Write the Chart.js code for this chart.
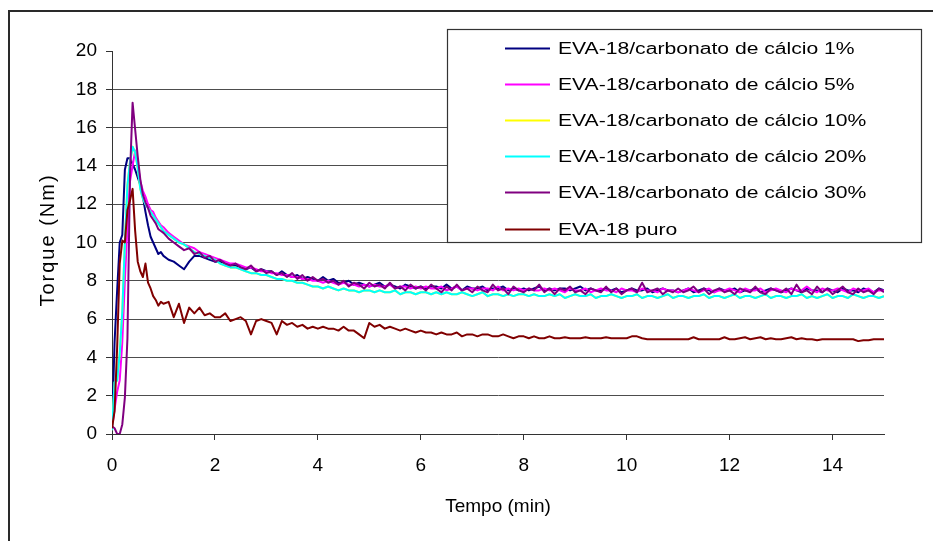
<!DOCTYPE html>
<html lang="pt">
<head>
<meta charset="utf-8">
<title>Torque x Tempo - EVA-18 / carbonato de cálcio</title>
<script src="https://cdn.jsdelivr.net/npm/chart.js@4.4.1/dist/chart.umd.min.js"></script>
<style>
    html, body { margin: 0; padding: 0; background: #fff; }
    #torqueContainer { width: 933px; height: 541px; }
</style>
</head>
<body>
<div id="torqueContainer"><canvas id="torqueChart" width="933" height="541"></canvas></div>
<script>
// Tempo (min) - fine steps during loading, then every 0.1 min
const tempo = [
    0, 0.05, 0.1, 0.15, 0.2, 0.25, 0.3, 0.35, 0.4, 0.45, 0.5, 0.55, 0.6, 0.65, 0.7, 0.75, 0.8, 0.85, 0.9, 0.95, 1.0,
    1.1, 1.2, 1.3, 1.4, 1.5, 1.6, 1.7, 1.8, 1.9, 2.0,
    2.1, 2.2, 2.3, 2.4, 2.5, 2.6, 2.7, 2.8, 2.9, 3.0,
    3.1, 3.2, 3.3, 3.4, 3.5, 3.6, 3.7, 3.8, 3.9, 4.0,
    4.1, 4.2, 4.3, 4.4, 4.5, 4.6, 4.7, 4.8, 4.9, 5.0,
    5.1, 5.2, 5.3, 5.4, 5.5, 5.6, 5.7, 5.8, 5.9, 6.0,
    6.1, 6.2, 6.3, 6.4, 6.5, 6.6, 6.7, 6.8, 6.9, 7.0,
    7.1, 7.2, 7.3, 7.4, 7.5, 7.6, 7.7, 7.8, 7.9, 8.0,
    8.1, 8.2, 8.3, 8.4, 8.5, 8.6, 8.7, 8.8, 8.9, 9.0,
    9.1, 9.2, 9.3, 9.4, 9.5, 9.6, 9.7, 9.8, 9.9, 10.0,
    10.1, 10.2, 10.3, 10.4, 10.5, 10.6, 10.7, 10.8, 10.9, 11.0,
    11.1, 11.2, 11.3, 11.4, 11.5, 11.6, 11.7, 11.8, 11.9, 12.0,
    12.1, 12.2, 12.3, 12.4, 12.5, 12.6, 12.7, 12.8, 12.9, 13.0,
    13.1, 13.2, 13.3, 13.4, 13.5, 13.6, 13.7, 13.8, 13.9, 14.0,
    14.1, 14.2, 14.3, 14.4, 14.5, 14.6, 14.7, 14.8, 14.9, 15.0
];

// Torque (Nm) for each formulation
const torque1 = [
    0.2, 4.8, 7.5, 10.0, 10.4, 13.8, 14.4, 14.4, 14.1, 13.8, 13.4, 13.0, 12.4, 11.6, 10.9, 10.3, 10.0, 9.7, 9.4, 9.5, 9.3,
    9.1, 9.0, 8.8, 8.6, 9.0, 9.3, 9.3, 9.2, 9.1, 9.0,
    9.0, 8.9, 8.8, 8.8, 8.7, 8.6, 8.7, 8.5, 8.6, 8.5,
    8.5, 8.3, 8.5, 8.3, 8.2, 8.3, 8.1, 8.2, 8.1, 8.0,
    8.2, 8.0, 8.1, 7.9, 7.9, 8.0, 7.8, 7.9, 7.8, 7.7,
    7.8, 7.9, 7.7, 7.8, 7.7, 7.6, 7.8, 7.7, 7.6, 7.7,
    7.6, 7.7, 7.7, 7.6, 7.8, 7.6, 7.7, 7.5, 7.7, 7.6,
    7.6, 7.7, 7.5, 7.6, 7.6, 7.7, 7.5, 7.6, 7.5, 7.6,
    7.5, 7.6, 7.7, 7.5, 7.6, 7.5, 7.6, 7.6, 7.5, 7.6,
    7.7, 7.5, 7.6, 7.5, 7.5, 7.6, 7.5, 7.6, 7.4, 7.5,
    7.6, 7.5, 7.5, 7.6, 7.4, 7.5, 7.6, 7.5, 7.5, 7.4,
    7.5, 7.6, 7.4, 7.5, 7.6, 7.5, 7.4, 7.6, 7.5, 7.5,
    7.6, 7.4, 7.5, 7.5, 7.6, 7.4, 7.5, 7.6, 7.5, 7.4,
    7.5, 7.6, 7.5, 7.4, 7.6, 7.5, 7.5, 7.4, 7.6, 7.5,
    7.4, 7.6, 7.5, 7.5, 7.4, 7.6, 7.5, 7.4, 7.6, 7.5
];
const torque5 = [
    0.3, 1.3, 2.2, 2.8, 4.8, 8.0, 10.8, 13.2, 14.0, 14.8, 14.1, 13.2, 12.7, 12.4, 12.0, 11.7, 11.6, 11.3, 11.1, 10.9, 10.8,
    10.5, 10.3, 10.1, 9.9, 9.8, 9.7, 9.5, 9.4, 9.3, 9.2,
    9.1, 9.0, 8.9, 8.9, 8.8, 8.7, 8.7, 8.6, 8.5, 8.5,
    8.4, 8.4, 8.3, 8.3, 8.2, 8.2, 8.1, 8.1, 8.0, 8.0,
    7.9, 8.0, 7.9, 7.8, 7.9, 7.8, 7.8, 7.7, 7.8, 7.7,
    7.8, 7.7, 7.7, 7.8, 7.6, 7.7, 7.7, 7.6, 7.7, 7.6,
    7.7, 7.6, 7.6, 7.7, 7.5, 7.6, 7.7, 7.5, 7.6, 7.6,
    7.5, 7.6, 7.6, 7.5, 7.7, 7.5, 7.6, 7.5, 7.6, 7.5,
    7.6, 7.5, 7.5, 7.6, 7.5, 7.6, 7.5, 7.4, 7.6, 7.5,
    7.5, 7.6, 7.4, 7.5, 7.6, 7.5, 7.5, 7.4, 7.6, 7.5,
    7.5, 7.4, 7.6, 7.5, 7.5, 7.4, 7.6, 7.5, 7.5, 7.4,
    7.5, 7.6, 7.5, 7.4, 7.5, 7.6, 7.4, 7.5, 7.5, 7.6,
    7.5, 7.4, 7.6, 7.5, 7.5, 7.6, 7.4, 7.5, 7.6, 7.5,
    7.4, 7.6, 7.5, 7.5, 7.7, 7.5, 7.4, 7.6, 7.5, 7.5,
    7.6, 7.5, 7.4, 7.6, 7.5, 7.5, 7.6, 7.4, 7.5, 7.5
];
const torque10 = [
    0.2, 2.7, 2.8, 4.2, 6.4, 10.0, 13.0, 14.2, 15.0, 14.7, 13.9, 12.8, 12.3, 12.0, 11.8, 11.6, 11.4, 11.2, 11.0, 10.8, 10.6,
    10.4, 10.2, 10.0, 9.9, 9.7, 9.5, 9.4, 9.3, 9.2, 9.1,
    8.9, 8.8, 8.7, 8.7, 8.6, 8.5, 8.4, 8.4, 8.3, 8.3,
    8.2, 8.1, 8.1, 8.0, 8.0, 7.9, 7.9, 7.8, 7.7, 7.7,
    7.6, 7.7, 7.6, 7.5, 7.6, 7.5, 7.5, 7.4, 7.5, 7.5,
    7.4, 7.5, 7.4, 7.4, 7.5, 7.3, 7.4, 7.4, 7.3, 7.4,
    7.4, 7.3, 7.4, 7.3, 7.4, 7.3, 7.3, 7.4, 7.3, 7.2,
    7.3, 7.4, 7.2, 7.3, 7.3, 7.2, 7.3, 7.2, 7.3, 7.3,
    7.2, 7.3, 7.2, 7.2, 7.3, 7.2, 7.3, 7.1, 7.2, 7.3,
    7.2, 7.2, 7.3, 7.1, 7.2, 7.2, 7.3, 7.2, 7.1, 7.2,
    7.2, 7.3, 7.1, 7.2, 7.2, 7.1, 7.2, 7.3, 7.1, 7.2,
    7.2, 7.1, 7.2, 7.2, 7.3, 7.1, 7.2, 7.2, 7.1, 7.2,
    7.3, 7.1, 7.2, 7.2, 7.1, 7.2, 7.3, 7.1, 7.2, 7.2,
    7.1, 7.2, 7.2, 7.3, 7.1, 7.2, 7.1, 7.2, 7.3, 7.1,
    7.2, 7.2, 7.1, 7.3, 7.2, 7.1, 7.2, 7.2, 7.1, 7.2
];
const torque20 = [
    0.2, 2.7, 2.8, 4.2, 6.4, 10.0, 13.0, 14.2, 15.0, 14.7, 13.9, 12.8, 12.3, 12.0, 11.8, 11.6, 11.4, 11.2, 11.0, 10.8, 10.6,
    10.4, 10.2, 10.0, 9.9, 9.7, 9.5, 9.4, 9.3, 9.2, 9.1,
    8.9, 8.8, 8.7, 8.7, 8.6, 8.5, 8.4, 8.4, 8.3, 8.3,
    8.2, 8.1, 8.1, 8.0, 8.0, 7.9, 7.9, 7.8, 7.7, 7.7,
    7.6, 7.7, 7.6, 7.5, 7.6, 7.5, 7.5, 7.4, 7.5, 7.5,
    7.4, 7.5, 7.4, 7.4, 7.5, 7.3, 7.4, 7.4, 7.3, 7.4,
    7.4, 7.3, 7.4, 7.3, 7.4, 7.3, 7.3, 7.4, 7.3, 7.2,
    7.3, 7.4, 7.2, 7.3, 7.3, 7.2, 7.3, 7.2, 7.3, 7.3,
    7.2, 7.3, 7.2, 7.2, 7.3, 7.2, 7.3, 7.1, 7.2, 7.3,
    7.2, 7.2, 7.3, 7.1, 7.2, 7.2, 7.3, 7.2, 7.1, 7.2,
    7.2, 7.3, 7.1, 7.2, 7.2, 7.1, 7.2, 7.3, 7.1, 7.2,
    7.2, 7.1, 7.2, 7.2, 7.3, 7.1, 7.2, 7.2, 7.1, 7.2,
    7.3, 7.1, 7.2, 7.2, 7.1, 7.2, 7.3, 7.1, 7.2, 7.2,
    7.1, 7.2, 7.2, 7.3, 7.1, 7.2, 7.1, 7.2, 7.3, 7.1,
    7.2, 7.2, 7.1, 7.3, 7.2, 7.1, 7.2, 7.2, 7.1, 7.2
];
const torque30 = [
    0.4, 0.3, 0.0, 0.0, 0.5, 1.9, 5.0, 13.5, 17.3, 15.9, 14.5, 13.3, 12.5, 12.1, 11.8, 11.4, 11.2, 11.0, 10.7, 10.6, 10.5,
    10.2, 10.0, 9.8, 9.6, 9.7, 9.4, 9.5, 9.2, 9.3, 9.0,
    9.1, 8.9, 8.8, 8.9, 8.7, 8.6, 8.8, 8.5, 8.6, 8.4,
    8.5, 8.3, 8.4, 8.2, 8.4, 8.1, 8.3, 8.0, 8.2, 8.0,
    8.1, 7.9, 8.0, 7.8, 8.0, 7.7, 7.9, 7.8, 7.6, 7.9,
    7.7, 7.8, 7.6, 7.9, 7.6, 7.7, 7.5, 7.8, 7.6, 7.7,
    7.5, 7.8, 7.6, 7.4, 7.7, 7.5, 7.8, 7.5, 7.6, 7.4,
    7.7, 7.5, 7.4, 7.8, 7.5, 7.6, 7.3, 7.7, 7.5, 7.4,
    7.6, 7.5, 7.8, 7.4, 7.6, 7.3, 7.6, 7.5, 7.7, 7.4,
    7.5, 7.3, 7.6, 7.5, 7.4, 7.7, 7.4, 7.6, 7.3, 7.5,
    7.6, 7.4, 7.9, 7.4, 7.5, 7.6, 7.3, 7.5, 7.4, 7.6,
    7.4, 7.5, 7.7, 7.4, 7.6, 7.3, 7.5, 7.6, 7.4, 7.5,
    7.3, 7.6, 7.5, 7.4, 7.7, 7.4, 7.3, 7.6, 7.5, 7.4,
    7.6, 7.3, 7.8, 7.4, 7.5, 7.3, 7.7, 7.4, 7.6, 7.3,
    7.5, 7.7, 7.4, 7.3, 7.6, 7.4, 7.5, 7.3, 7.6, 7.4
];
const torquePuro = [
    0.3, 1.2, 4.5, 8.9, 10.1, 10.0, 11.7, 12.2, 12.8, 10.6, 9.0, 8.5, 8.2, 8.9, 7.9, 7.6, 7.2, 7.0, 6.7, 6.9, 6.8,
    6.9, 6.1, 6.8, 5.8, 6.6, 6.3, 6.6, 6.2, 6.3, 6.1,
    6.1, 6.3, 5.9, 6.0, 6.1, 5.9, 5.2, 5.9, 6.0, 5.9,
    5.8, 5.2, 5.9, 5.7, 5.8, 5.6, 5.7, 5.5, 5.6, 5.5,
    5.6, 5.5, 5.5, 5.4, 5.6, 5.4, 5.4, 5.2, 5.0, 5.8,
    5.6, 5.7, 5.5, 5.6, 5.5, 5.4, 5.5, 5.4, 5.3, 5.4,
    5.3, 5.3, 5.2, 5.3, 5.2, 5.2, 5.3, 5.1, 5.2, 5.2,
    5.1, 5.2, 5.2, 5.1, 5.1, 5.2, 5.1, 5.0, 5.1, 5.1,
    5.0, 5.1, 5.0, 5.0, 5.1, 5.0, 5.0, 5.05, 5.0, 5.0,
    5.0, 5.05, 5.0, 5.0, 5.0, 5.05, 5.0, 5.0, 5.0, 5.0,
    5.1, 5.1, 5.0, 4.95, 4.95, 4.95, 4.95, 4.95, 4.95, 4.95,
    4.95, 4.95, 5.05, 4.95, 4.95, 4.95, 4.95, 4.95, 5.05, 4.95,
    4.95, 5.0, 5.05, 4.95, 5.0, 5.05, 4.95, 5.0, 4.95, 4.95,
    5.0, 5.05, 4.95, 5.0, 4.95, 4.95, 4.9, 4.95, 4.95, 4.95,
    4.95, 4.95, 4.95, 4.95, 4.85, 4.9, 4.9, 4.95, 4.95, 4.95
];

const seriesLabels = [
    'EVA-18/carbonato de cálcio 1%',
    'EVA-18/carbonato de cálcio 5%',
    'EVA-18/carbonato de cálcio 10%',
    'EVA-18/carbonato de cálcio 20%',
    'EVA-18/carbonato de cálcio 30%',
    'EVA-18 puro'
];
const seriesValues = [torque1, torque5, torque10, torque20, torque30, torquePuro];
const seriesColors = ['#000080', '#FF00FF', '#FFFF00', '#00FFFF', '#800080', '#800000'];

const FONT_FAMILY = '"Liberation Sans", Arial, Helvetica, sans-serif';

/**
 * Outer frame, the spaced-out y axis title and the boxed legend
 * that sits over the upper right of the plot
 */
const frameAndLegendPlugin = {
    id: 'frameAndLegend',
    afterDraw(chart) {
        const ctx = chart.ctx;
        ctx.save();

        // Frame around the whole chart (only left and top edges are visible)
        ctx.strokeStyle = '#2a2a2a';
        ctx.lineWidth = 2;
        ctx.beginPath();
        ctx.moveTo(9, 541);
        ctx.lineTo(9, 11);
        ctx.lineTo(933, 11);
        ctx.stroke();

        // Y axis title, drawn here so it can get the wide letter spacing
        ctx.save();
        ctx.translate(48, 240);
        ctx.rotate(-Math.PI / 2);
        ctx.fillStyle = '#000';
        ctx.font = '20px ' + FONT_FAMILY;
        ctx.letterSpacing = '2px';
        ctx.textAlign = 'center';
        ctx.textBaseline = 'middle';
        ctx.fillText('Torque (Nm)', 0, 0);
        ctx.restore();

        // Legend box
        const box = { x: 447.5, y: 29.5, w: 474, h: 213 };
        ctx.fillStyle = '#fff';
        ctx.fillRect(box.x, box.y, box.w, box.h);
        ctx.strokeStyle = '#333';
        ctx.lineWidth = 1.2;
        ctx.strokeRect(box.x, box.y, box.w, box.h);

        chart.data.datasets.forEach((ds, i) => {
            const y = Math.round(47.5 + i * 36.2) + 0.5;
            ctx.strokeStyle = ds.borderColor;
            ctx.lineWidth = 2;
            ctx.beginPath();
            ctx.moveTo(505, y);
            ctx.lineTo(550, y);
            ctx.stroke();

            // Excel text here is drawn a bit wide, so stretch it horizontally
            ctx.save();
            ctx.translate(558, y);
            ctx.scale(1.32, 1);
            ctx.fillStyle = '#000';
            ctx.font = '16px ' + FONT_FAMILY;
            ctx.textBaseline = 'middle';
            ctx.fillText(ds.label, 0, 1);
            ctx.restore();
        });

        ctx.restore();
    }
};

/**
 * Render the torque x time chart
 */
function renderTorqueChart() {
    try {
        const canvas = document.getElementById('torqueChart');
        if (!canvas) {
            console.error('Canvas not found');
            return;
        }

        const datasets = seriesValues.map((values, i) => ({
            label: seriesLabels[i],
            data: tempo.map((t, k) => ({ x: t, y: values[k] })),
            borderColor: seriesColors[i],
            backgroundColor: seriesColors[i],
            borderWidth: 2,
            pointRadius: 0,
            tension: 0,
            fill: false,
            // later series sit on top, like the original spreadsheet chart
            order: seriesValues.length - i
        }));

        new Chart(canvas, {
            type: 'line',
            data: { datasets: datasets },
            options: {
                responsive: false,
                animation: false,
                layout: { padding: { top: 51, right: 49, bottom: 0, left: 0 } },
                elements: { line: { borderJoinStyle: 'round' } },
                scales: {
                    x: {
                        type: 'linear',
                        min: 0,
                        max: 15,
                        ticks: {
                            stepSize: 2,
                            includeBounds: false,
                            color: '#000',
                            padding: 14,
                            font: { family: FONT_FAMILY, size: 19 }
                        },
                        grid: {
                            drawOnChartArea: false,
                            drawTicks: true,
                            tickLength: 6,
                            tickColor: '#333'
                        },
                        border: { display: true, color: '#333', width: 1 },
                        title: {
                            display: true,
                            text: 'Tempo (min)',
                            color: '#000',
                            font: { family: FONT_FAMILY, size: 19 },
                            padding: { top: 0, bottom: 23 }
                        },
                        afterFit(scale) { scale.height = 107; }
                    },
                    y: {
                        min: 0,
                        max: 20,
                        ticks: {
                            stepSize: 2,
                            color: '#000',
                            padding: 9,
                            font: { family: FONT_FAMILY, size: 19 }
                        },
                        grid: {
                            color: (c) => (c.tick && (c.tick.value === 20 || c.tick.value === 0)) ? 'rgba(0,0,0,0)' : '#4d4d4d',
                            tickColor: '#333',
                            tickLength: 6,
                            lineWidth: 1
                        },
                        border: { display: true, color: '#333', width: 1 },
                        title: { display: false },
                        afterFit(scale) { scale.width = 112; }
                    }
                },
                plugins: {
                    legend: { display: false },
                    tooltip: { enabled: false }
                }
            },
            plugins: [frameAndLegendPlugin]
        });

        console.log('Torque chart rendered');
    } catch (err) {
        console.error('Error rendering torque chart:', err);
    }
}

renderTorqueChart();
</script>
</body>
</html>
